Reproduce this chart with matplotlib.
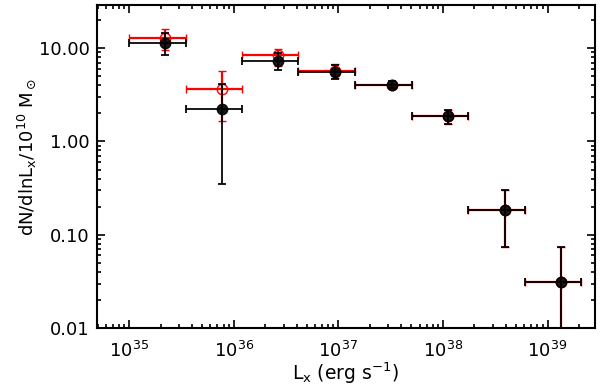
import numpy as np
import matplotlib
matplotlib.use("Agg")
import matplotlib.pyplot as plt
from matplotlib.ticker import LogLocator, FixedLocator, FixedFormatter, NullFormatter

plt.rcParams['font.family'] = ['DejaVu Sans']
plt.rcParams['mathtext.fontset'] = 'dejavusans'

# log10 of bin centres and bin edges (erg/s)
logx_center = [35.34, 35.885, 36.426, 36.967, 37.509, 38.05, 38.59, 39.13]
logx_low = [35.0, 35.54, 36.076, 36.617, 37.16, 37.70, 38.24, 38.78]
logx_high = [35.54, 36.076, 36.617, 37.16, 37.70, 38.24, 38.78, 39.32]

# black series (filled)
black_y = [11.4, 2.25, 7.3, 5.56, 4.07, 1.86, 0.186, 0.0315]
black_ylo = [8.4, 0.35, 5.8, 4.7, 3.7, 1.52, 0.073, 0.001]
black_yhi = [14.4, 4.17, 8.9, 6.6, 4.4, 2.15, 0.30, 0.074]

# red series (open)
red_y = [12.9, 3.62, 8.4, 5.7, 4.07, 1.86, 0.186, 0.0315]
red_ylo = [9.5, 1.65, 6.4, 4.8, 3.7, 1.52, 0.073, 0.001]
red_yhi = [16.0, 5.66, 9.9, 6.7, 4.4, 2.15, 0.30, 0.074]

xc = 10 ** np.array(logx_center)
xl = 10 ** np.array(logx_low)
xh = 10 ** np.array(logx_high)
xerr = [xc - xl, xh - xc]

fig = plt.figure(figsize=(6.0, 3.85), dpi=100)
ax = fig.add_axes([0.161, 0.148, 0.830, 0.840])

ry = np.array(red_y)
ax.errorbar(xc, ry, xerr=xerr, yerr=[ry - np.array(red_ylo), np.array(red_yhi) - ry],
            fmt='o', mfc='none', mec='red', ms=7.5, mew=1.0, color='red',
            ecolor='red', elinewidth=1.6, capsize=3, capthick=1.6, zorder=2)
by = np.array(black_y)
ax.errorbar(xc, by, xerr=xerr, yerr=[by - np.array(black_ylo), np.array(black_yhi) - by],
            fmt='o', mfc='black', mec='black', ms=7.5, color='black',
            ecolor='black', elinewidth=1.4, capsize=3, capthick=1.4, zorder=3, alpha=0.9)

ax.set_xscale('log')
ax.set_yscale('log')
ax.set_xlim(10 ** 34.69, 10 ** 39.45)
ax.set_ylim(0.01, 29.3)

ax.xaxis.set_major_locator(LogLocator(base=10, numticks=20))
ax.xaxis.set_minor_locator(LogLocator(base=10, subs=np.arange(2, 10), numticks=20))
ax.xaxis.set_minor_formatter(NullFormatter())

ax.yaxis.set_major_locator(FixedLocator([0.01, 0.1, 1, 10]))
ax.yaxis.set_major_formatter(FixedFormatter(['0.01', '0.10', '1.00', '10.00']))
ax.yaxis.set_minor_locator(LogLocator(base=10, subs=np.arange(2, 10), numticks=20))
ax.yaxis.set_minor_formatter(NullFormatter())

ax.tick_params(which='both', direction='in', top=True, right=True, width=1.2, labelsize=13)
ax.tick_params(which='major', length=5.5)
ax.tick_params(which='minor', length=3)
ax.tick_params(axis='x', which='major', pad=9)
ax.tick_params(axis='y', which='major', pad=5)
for s in ax.spines.values():
    s.set_linewidth(1.5)

ax.set_xlabel(r'L$_\mathregular{x}$ (erg s$^{\mathregular{-1}}$)', fontsize=13.5, labelpad=0)
ax.set_ylabel(r'dN/dlnL$_\mathregular{x}$/10$^{\mathregular{10}}$ M$_\odot$', fontsize=13, labelpad=8)
ax.yaxis.set_label_coords(-0.118, 0.53)

fig.savefig('out.png', dpi=100)
